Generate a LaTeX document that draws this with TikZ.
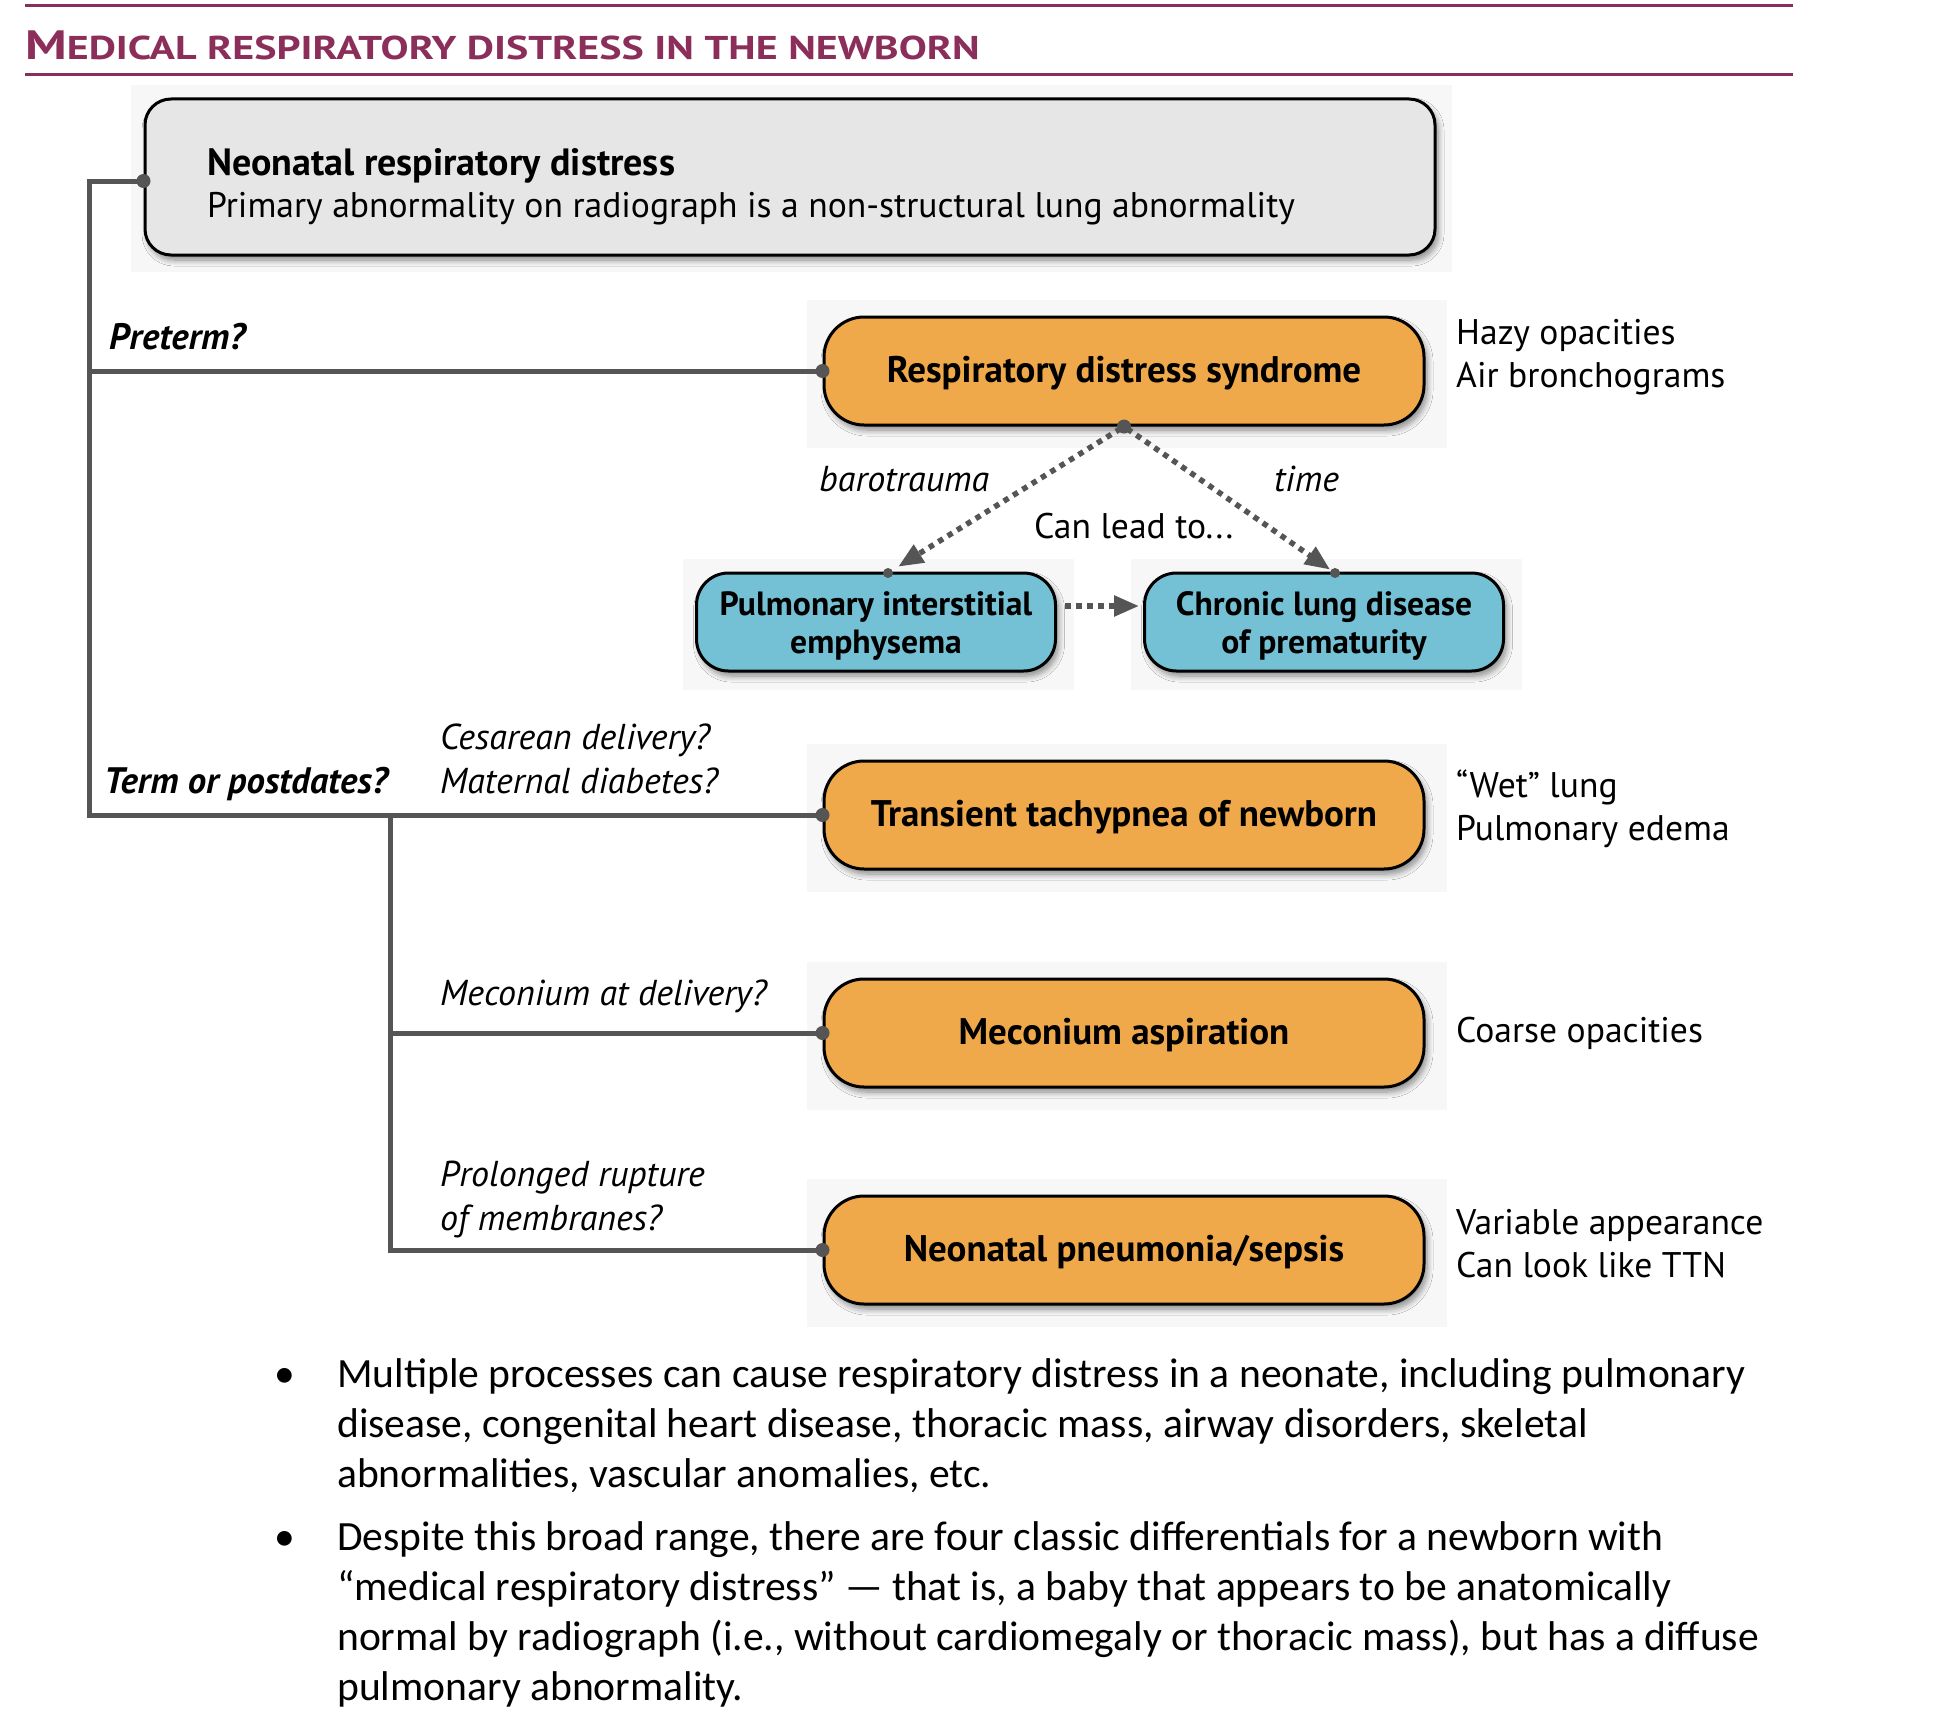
\documentclass[tikz,border=0pt]{standalone}
\usepackage{fontspec}
\usepackage{graphicx}
\setmainfont{PT Sans}
\newfontfamily\bulletfont{Carlito}
\usetikzlibrary{arrows.meta,shadows.blur,backgrounds}
\definecolor{maroonC}{HTML}{8B2F5A}
\definecolor{orangeC}{HTML}{EFA94A}
\definecolor{cyanC}{HTML}{74C1D5}
\definecolor{grayboxC}{HTML}{E6E6E6}
\definecolor{lineC}{HTML}{555555}
\definecolor{panelC}{HTML}{F7F7F7}
\newcommand\fsz[2]{\fontsize{#1}{#2}\selectfont}
\newcommand\dn[2]{\raisebox{-#1pt}[0pt][0pt]{#2}}
\begin{document}
\begin{tikzpicture}[x=1pt,y=-1pt,
  txt/.style={inner sep=0pt, anchor=base west},
  reg/.style={txt, font=\fsz{35.6}{43}},
  ital/.style={txt, font=\itshape\fsz{36}{43}},
  bital/.style={txt, font=\bfseries\itshape\fsz{36.8}{43}},
  btxt/.style={txt, font=\bulletfont\fsz{41.6}{50}},
  shadowed/.style={blur shadow={shadow xshift=3pt, shadow yshift=-5pt, shadow blur radius=6pt, shadow blur steps=8, shadow opacity=45}},
  obox/.style={draw=black, line width=3pt, fill=orangeC, rounded corners=40pt, shadowed,
    minimum width=600pt, minimum height=108pt, inner sep=0pt, font=\bfseries\fsz{37}{44}},
  cbox/.style={draw=black, line width=3pt, fill=cyanC, rounded corners=32pt, shadowed,
    minimum width=359pt, minimum height=98pt, inner sep=0pt, align=center, font=\bfseries\fsz{33.6}{38}},
  gbox/.style={draw=black, line width=3pt, fill=grayboxC, rounded corners=26pt, shadowed,
    minimum width=1290pt, minimum height=156pt, inner sep=0pt},
  trunk/.style={draw=lineC, line width=5pt},
  dotc/.style={circle, fill=lineC, inner sep=0pt, minimum size=14pt},
  sdot/.style={circle, fill=lineC, inner sep=0pt, minimum size=10pt},
  dotarrow/.style={draw=lineC, line width=5.5pt, dash pattern=on 5.5pt off 5.5pt,
    -{Triangle[length=25pt,width=20pt]}},
]
\useasboundingbox (0,0) rectangle (1942,1726);

% title
\draw[maroonC, line width=3pt] (25,6) -- (1793,6);
\node[txt, text=maroonC, font=\bfseries] (title) at (25,60)
  {\scalebox{1.272}[1]{\fsz{41}{41}M\fsz{33}{33}EDICAL RESPIRATORY DISTRESS IN THE NEWBORN}};
\draw[maroonC, line width=3pt] (25,75) -- (1793,75);

% top box
\node[gbox] (nrd) at (790,177) {};
\node[txt, font=\bfseries\fsz{38}{43}] (nrdA) at (207,175) {Neonatal respiratory distress};
\node[reg] (nrdB) at (207,217) {Primary abnormality on radiograph is a non-structural lung abnormality};

% orange boxes
\node[obox] (rds) at (1124,371) {\dn{11.5}{Respiratory distress syndrome}};
\node[obox] (ttn) at (1124,815) {\dn{11.5}{Transient tachypnea of newborn}};
\node[obox] (ma)  at (1124,1033) {\dn{11.5}{Meconium aspiration}};
\node[obox] (np)  at (1124,1250) {\dn{11.5}{Neonatal pneumonia/sepsis}};

% cyan boxes
\node[cbox] (pie) at (876,622) {\dn{12}{Pulmonary interstitial}\\\dn{12}{emphysema}};
\node[cbox] (cld) at (1324,622) {\dn{12}{Chronic lung disease}\\\dn{12}{of prematurity}};

% background panels
\begin{scope}[on background layer]
  \fill[panelC] ([shift={(-13pt,12pt)}]nrd.north west) rectangle ([shift={(15pt,-15pt)}]nrd.south east);
  \foreach \b in {rds,ttn,ma,np}{
    \fill[panelC] ([shift={(-16pt,16pt)}]\b.north west) rectangle ([shift={(21pt,-21pt)}]\b.south east);
  }
  \foreach \b in {pie,cld}{
    \fill[panelC] ([shift={(-12pt,13pt)}]\b.north west) rectangle ([shift={(17pt,-17pt)}]\b.south east);
  }
\end{scope}

% right-side descriptions
\node[reg] (d1a) at (1456,344) {Hazy opacities};
\node[reg] (d1b) at (1456,387) {Air bronchograms};
\node[reg] (d2a) at (1456,797) {“Wet” lung};
\node[reg] (d2b) at (1456,840) {Pulmonary edema};
\node[reg] (d3)  at (1456,1042) {Coarse opacities};
\node[reg] (d4a) at (1456,1234) {Variable appearance};
\node[reg] (d4b) at (1456,1277) {Can look like TTN};

% trunk connectors
\coordinate (k1) at (89,181);
\coordinate (k2) at (89,371);
\coordinate (k3) at (89,815);
\coordinate (k4) at (390,815);
\coordinate (k5) at (390,1033);
\coordinate (k6) at (390,1250);
\draw[trunk] (nrd.west |- k1) -- (k1) -- (k3) -- (ttn.west);
\draw[trunk] (k2) -- (rds.west);
\draw[trunk] (k4) -- (k6) -- (np.west);
\draw[trunk] (k5) -- (ma.west);
\node[dotc] (p0) at (nrd.west |- k1) {};
\node[dotc] (p1) at (rds.west) {};
\node[dotc] (p2) at (ttn.west) {};
\node[dotc] (p3) at (ma.west) {};
\node[dotc] (p4) at (np.west) {};

% branch labels
\node[bital] (lpre) at (109,349) {Preterm?};
\node[bital] (lterm) at (104,793) {Term or postdates?};
\node[ital] (lc1) at (440,749) {Cesarean delivery?};
\node[ital] (lc2) at (440,793) {Maternal diabetes?};
\node[ital] (lmec) at (440,1005) {Meconium at delivery?};
\node[ital] (lpr1) at (440,1186) {Prolonged rupture};
\node[ital] (lpr2) at (440,1230) {of membranes?};

% can lead to
\node[dotc] (rdsb) at (rds.south) {};
\node[sdot] (pietop) at (888,573) {};
\node[sdot] (cldtop) at (1335,573) {};
\draw[dotarrow, shorten <=4pt, shorten >=12pt] (rdsb.center) -- (pietop.center);
\draw[dotarrow, shorten <=4pt, shorten >=6pt] (rdsb.center) -- (cldtop.center);
\draw[dotarrow, shorten <=8pt, shorten >=4pt] ([yshift=16pt]pie.east) -- ([yshift=16pt]cld.west);
\node[ital] (lbaro) at (819,491) {barotrauma};
\node[ital] (ltime) at (1274,491) {time};
\node[reg] (llead) at (1034,538) {Can lead to...};

% bullets
\node[btxt] (b1dot) at (274,1387) {•};
\node[btxt] (b1a) at (337,1387) {Multiple processes can cause respiratory distress in a neonate, including pulmonary};
\node[btxt] (b1b) at (337,1437) {disease, congenital heart disease, thoracic mass, airway disorders, skeletal};
\node[btxt] (b1c) at (337,1487) {abnormalities, vascular anomalies, etc.};
\node[btxt] (b2dot) at (274,1550) {•};
\node[btxt] (b2a) at (337,1550) {Despite this broad range, there are four classic differentials for a newborn with};
\node[btxt] (b2b) at (337,1600) {“medical respiratory distress” — that is, a baby that appears to be anatomically};
\node[btxt] (b2c) at (337,1650) {normal by radiograph (i.e., without cardiomegaly or thoracic mass), but has a diffuse};
\node[btxt] (b2d) at (337,1700) {pulmonary abnormality.};
\end{tikzpicture}
\end{document}
